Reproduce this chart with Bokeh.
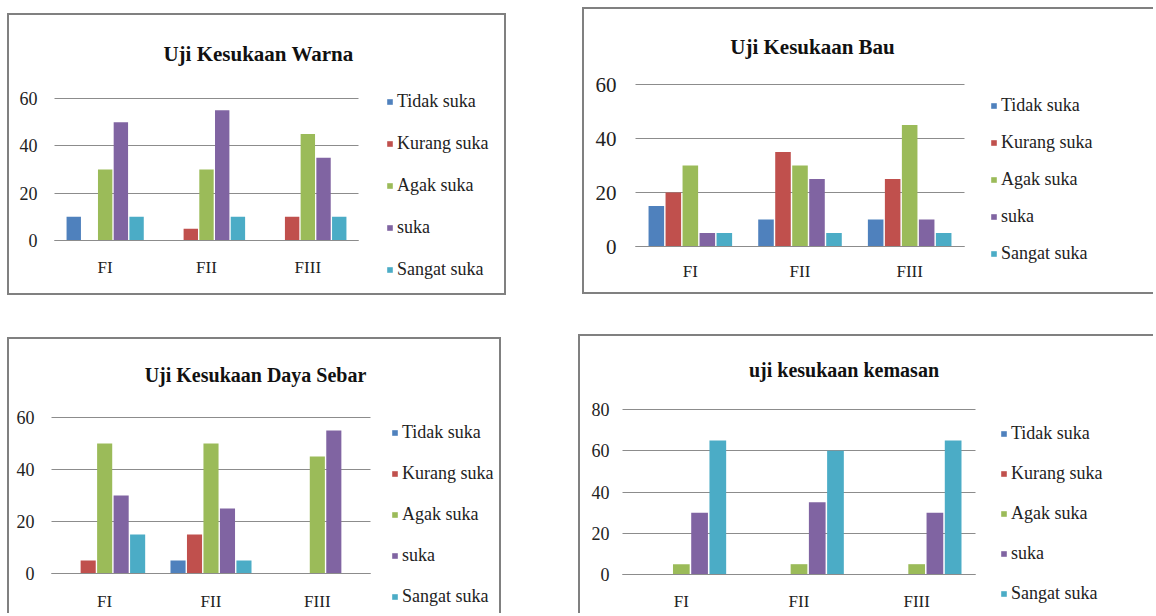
from bokeh.plotting import figure
from bokeh.models import (Range1d, Legend, LegendItem, ColumnDataSource, Spacer, FixedTicker,
                          LinearAxis, Grid, Label)
from bokeh.transform import dodge
from bokeh.layouts import row, column
from bokeh.embed import file_html
from bokeh.resources import INLINE

formulas = ["FI", "FII", "FIII"]
formula_pos = [0.5, 1.5, 2.5]
series = ["Tidak suka", "Kurang suka", "Agak suka", "suka", "Sangat suka"]
colors = ["#4F81BD", "#C0504D", "#9BBB59", "#8064A2", "#4BACC6"]

# Uji Kesukaan Warna
warna_tidak = [10, 0, 0]
warna_kurang = [0, 5, 10]
warna_agak = [30, 30, 45]
warna_suka = [50, 55, 35]
warna_sangat = [10, 10, 10]

# Uji Kesukaan Bau
bau_tidak = [15, 10, 10]
bau_kurang = [20, 35, 25]
bau_agak = [30, 30, 45]
bau_suka = [5, 25, 10]
bau_sangat = [5, 5, 5]

# Uji Kesukaan Daya Sebar
sebar_tidak = [0, 5, 0]
sebar_kurang = [5, 15, 0]
sebar_agak = [50, 50, 45]
sebar_suka = [30, 25, 55]
sebar_sangat = [15, 5, 0]

# uji kesukaan kemasan
kemasan_tidak = [0, 0, 0]
kemasan_kurang = [0, 0, 0]
kemasan_agak = [5, 5, 5]
kemasan_suka = [30, 35, 30]
kemasan_sangat = [65, 60, 65]

ticks_60 = [0, 20, 40, 60]
ticks_80 = [0, 20, 40, 60, 80]

SERIF = "Liberation Serif"
offsets = [-0.31, -0.155, 0.0, 0.155, 0.31]
ITEM_H = 26


def make_panel(title, values, ymax, yticks, W, H, cx0, cx1, y0px, ytoppx,
               title_xy, title_size, tick_size, y_gap, x_standoff,
               leg_x, leg_first, leg_spacing, borders):
    ncat = len(formulas)
    ppu_x = (cx1 - cx0) / ncat
    ppu_y = (y0px - ytoppx) / ymax
    xr = Range1d(-cx0 / ppu_x, (W - cx0) / ppu_x)
    yr = Range1d(-(H - y0px) / ppu_y, ymax + ytoppx / ppu_y)
    p = figure(x_range=xr, y_range=yr, width=W, height=H, output_backend="svg",
               toolbar_location=None, x_axis_type=None, y_axis_type=None, title=None,
               min_border=0, min_border_left=0, min_border_right=0, min_border_top=0,
               min_border_bottom=0)
    p.extra_x_ranges = {"px": Range1d(0, W)}
    p.extra_y_ranges = {"px": Range1d(H, 0)}

    # grid lines only across the category area
    grid = Grid(dimension=1, ticker=FixedTicker(ticks=yticks), cross_bounds=(0, ncat),
                grid_line_color="#8c8c8c", grid_line_width=1)
    p.add_layout(grid)

    data = {"pos": formula_pos}
    for i, s in enumerate(series):
        data["s%d" % i] = values[i]
    src = ColumnDataSource(data)
    items = []
    for i, s in enumerate(series):
        r = p.vbar(x=dodge("pos", offsets[i]), top="s%d" % i, width=0.142,
                   source=src, fill_color=colors[i], line_color=None)
        items.append(LegendItem(label=s, renderers=[r]))

    yaxis = LinearAxis(ticker=FixedTicker(ticks=yticks), fixed_location=0, bounds=(0, ymax),
                       axis_line_color=None, major_tick_line_color=None, minor_tick_line_color=None,
                       major_tick_out=0, major_tick_in=0, minor_tick_out=0, minor_tick_in=0,
                       major_label_standoff=y_gap, major_label_text_font=SERIF,
                       major_label_text_font_size=tick_size, major_label_text_color="#222222")
    p.add_layout(yaxis, "left")
    xaxis = LinearAxis(ticker=FixedTicker(ticks=formula_pos), fixed_location=0, bounds=(0, ncat),
                       major_label_overrides={formula_pos[k]: formulas[k] for k in range(ncat)},
                       axis_line_color="#8c8c8c", major_tick_line_color=None,
                       minor_tick_line_color=None, major_tick_out=0, major_tick_in=0,
                       minor_tick_out=0, minor_tick_in=0,
                       major_label_standoff=x_standoff, major_label_text_font=SERIF,
                       major_label_text_font_size="17px", major_label_text_color="#222222")
    p.add_layout(xaxis, "below")

    n = len(series)
    leg_top = leg_first - ITEM_H / 2
    leg_h = n * ITEM_H + (n - 1) * leg_spacing
    leg = Legend(items=items, location=(leg_x, H - (leg_top + leg_h)), border_line_color=None,
                 background_fill_alpha=0, padding=0, margin=0, spacing=leg_spacing,
                 label_height=ITEM_H, glyph_width=7, glyph_height=7, label_standoff=4,
                 label_text_font=SERIF, label_text_font_size="18px",
                 label_text_color="#222222")
    p.add_layout(leg)

    p.add_layout(Label(x=title_xy[0], y=title_xy[1], x_range_name="px", y_range_name="px",
                       text=title, text_align="center", text_baseline="middle",
                       text_font=SERIF, text_font_size=title_size, text_font_style="bold",
                       text_color="#111111"))

    p.xgrid.visible = False
    p.outline_line_color = None
    p.border_fill_color = None
    p.background_fill_color = None
    st = {}
    for side in borders:
        st["border-" + side] = "2px solid #808080"
    p.styles = st
    return p


p1 = make_panel("Uji Kesukaan Warna",
                [warna_tidak, warna_kurang, warna_agak, warna_suka, warna_sangat],
                60, ticks_60, 499, 282, 45, 349, 225, 83,
                (249, 38), "21px", "18px", 17, 17, 377, 86, 16,
                ["top", "left", "right", "bottom"])
p2 = make_panel("Uji Kesukaan Bau",
                [bau_tidak, bau_kurang, bau_agak, bau_suka, bau_sangat],
                60, ticks_60, 571, 287, 51, 380, 237, 75,
                (228, 37), "21px", "21px", 19, 15, 406, 96, 11,
                ["top", "left", "bottom"])
p3 = make_panel("Uji Kesukaan Daya Sebar",
                [sebar_tidak, sebar_kurang, sebar_agak, sebar_suka, sebar_sangat],
                60, ticks_60, 494, 276, 42, 361, 234, 78,
                (246, 35), "20px", "18px", 17, 18, 382, 93, 15,
                ["top", "left", "right"])
p4 = make_panel("uji  kesukaan kemasan",
                [kemasan_tidak, kemasan_kurang, kemasan_agak, kemasan_suka, kemasan_sangat],
                80, ticks_80, 575, 279, 42, 395, 238, 73,
                (266, 33), "20px", "18px", 13, 17, 420, 97, 14,
                ["top", "left"])

left = column(Spacer(height=6), p1, Spacer(height=42), p3, spacing=0)
right = column(row(Spacer(width=4), p2, spacing=0), Spacer(height=40), p4, spacing=0)
layout = column(Spacer(height=7), row(Spacer(width=7), left, Spacer(width=72), right, spacing=0),
                spacing=0)

open("out.html", "w").write(file_html(layout, INLINE))
